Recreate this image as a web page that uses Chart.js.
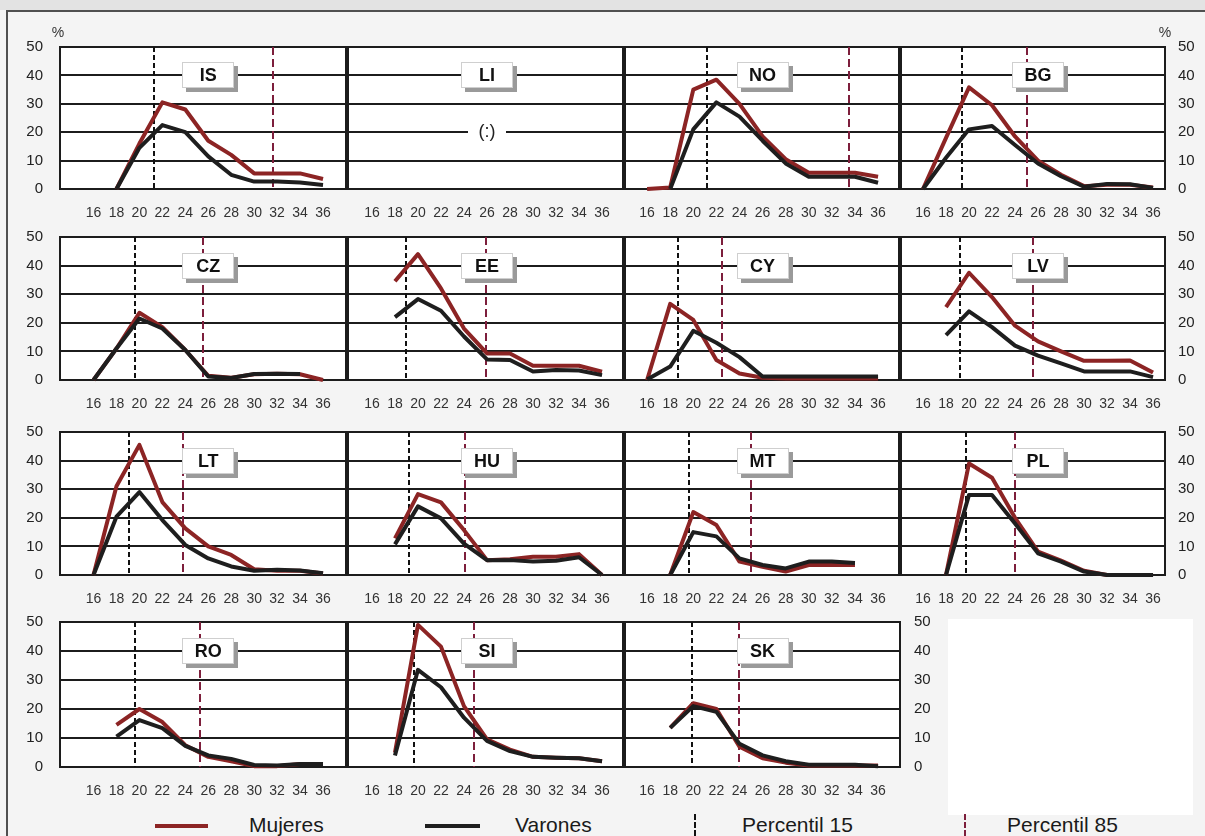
<!DOCTYPE html>
<html>
<head>
<meta charset="utf-8">
<script src="https://cdn.jsdelivr.net/npm/chart.js@4/dist/chart.umd.min.js"></script>
<style>
html,body{margin:0;padding:0;background:#f4f4f4;}
#wrap{position:relative;width:1205px;height:836px;overflow:hidden;background:#f4f4f4;font-family:"Liberation Sans",Arial,sans-serif;}
#topband{position:absolute;left:0;top:0;width:1205px;height:10px;background:#e3e3e3;}
#frame{position:absolute;left:6px;top:10px;width:1210px;height:840px;border-left:2px solid #505050;border-top:2px solid #505050;}
#empty{position:absolute;left:948px;top:619px;width:245px;height:196px;background:#fff;}
canvas{position:absolute;}
.lgtxt{position:absolute;font-size:21px;line-height:21px;color:#1a1a1a;white-space:nowrap;}
.lgline{position:absolute;height:4px;}
.lgdash{position:absolute;width:0;height:22px;}
</style>
</head>
<body>
<div id="wrap">
  <div id="topband"></div>
  <div id="frame"></div>
  <div id="empty"></div>
</div>
<script>
// ---------------- DATA ----------------
const ages = [16, 18, 20, 22, 24, 26, 28, 30, 32, 34, 36];
const yTickValues = [0, 10, 20, 30, 40, 50];
const countries = ['IS','LI','NO','BG','CZ','EE','CY','LV','LT','HU','MT','PL','RO','SI','SK'];
const legendLabels = ['Mujeres', 'Varones', 'Percentil 15', 'Percentil 85'];
const noDataLabel = '(:)';
const unitLabel = '%';

const mujeres_IS = [null, 0, 16, 30.5, 28, 17, 12, 5.5, 5.5, 5.5, 3.5];
const varones_IS = [null, 0, 14.5, 22.5, 20, 11.5, 5, 2.6, 2.6, 2.3, 1.4];
const mujeres_LI = [null, null, null, null, null, null, null, null, null, null, null];
const varones_LI = [null, null, null, null, null, null, null, null, null, null, null];
const mujeres_NO = [0, 0.5, 35, 38.5, 30, 18.5, 10.5, 5.7, 5.7, 5.7, 4.3];
const varones_NO = [null, 0, 21, 30.5, 25.5, 17, 9, 4.3, 4.3, 4.3, 2.2];
const mujeres_BG = [0, 18, 35.8, 29.5, 18.5, 10, 5, 1, 1.5, 1.5, 0.5];
const varones_BG = [0, 11, 21, 22.2, 15.5, 9, 4.5, 0.8, 1.8, 1.7, 0.4];

const mujeres_CZ = [0, 11, 23.5, 18.5, 10.5, 1.5, 0.8, 2, 2.2, 2, 0];
const varones_CZ = [0, 11, 21.5, 18, 10.5, 1.2, 0.7, 2.1, 2.2, 2.1, null];
const mujeres_EE = [null, 34.5, 44, 32, 18, 9.3, 9.3, 5, 5, 5, 2.9];
const varones_EE = [null, 22, 28.3, 24.2, 15.2, 7.2, 7, 3, 3.5, 3.3, 1.7];
const mujeres_CY = [0, 26.6, 21, 7, 2.3, 0.8, 0.5, 0.5, 0.5, 0.5, 0.5];
const varones_CY = [0.2, 4.7, 17.2, 13, 8, 1.2, 1.2, 1.2, 1.2, 1.2, 1.2];
const mujeres_LV = [null, 25.5, 37.5, 29, 19, 13.5, 10, 6.7, 6.7, 6.8, 2.6];
const varones_LV = [null, 15.7, 24, 18.5, 12, 8.5, 5.8, 3, 3, 3, 1];

const mujeres_LT = [0, 31, 45.5, 25.5, 16.3, 10, 7, 2, 1.5, 1.5, 0.5];
const varones_LT = [0, 20.4, 29, 19.2, 10.5, 5.8, 3, 1.5, 1.8, 1.6, 0.6];
const mujeres_HU = [null, 12.8, 28.3, 25.4, 15.7, 5.2, 5.5, 6.4, 6.4, 7.3, 0];
const varones_HU = [null, 10.7, 24, 19.8, 11, 5.2, 5.2, 4.7, 5, 6.2, 0];
const mujeres_MT = [null, 0, 22, 17.5, 4.7, 2.9, 1.2, 3.5, 3.5, 3.5, null];
const varones_MT = [null, 0, 15, 13.5, 5.8, 3.5, 2.3, 4.7, 4.7, 4.2, null];
const mujeres_PL = [null, 0, 39, 34, 20, 8.2, 5, 1.5, 0, 0, 0];
const varones_PL = [null, 0, 28, 28, 18, 7.6, 4.7, 1.2, 0, 0, 0];

const mujeres_RO = [null, 14.5, 20, 15.5, 7.5, 3.5, 2, 0.3, 0.3, 1, 1];
const varones_RO = [null, 10.5, 16.2, 13.4, 7.3, 4, 2.8, 0.7, 0.5, 1, 1];
const mujeres_SI = [null, 5, 49, 41.5, 21, 9.5, 6, 3.5, 3.2, 3, 2];
const varones_SI = [null, 4, 33.5, 27.5, 17, 9, 5.5, 3.5, 3.2, 3, 2];
const mujeres_SK = [null, 13.5, 22, 20, 7, 3, 1.5, 0.5, 0.5, 0.5, 0.5];
const varones_SK = [null, 13.5, 21, 19, 8, 4, 2, 0.8, 0.8, 0.8, 0.3];

// percentile ages, in the order of `countries`
const percentil15 = [21.3, null, 21.2, 19.4, 19.6, 19.0, 18.7, 19.2, 19.1, 19.2, 19.65, 19.75, 19.6, 19.65, 19.9];
const percentil85 = [31.6, null, 33.5, 25.0, 25.5, 25.9, 22.5, 25.6, 23.8, 24.1, 25.0, 24.0, 25.3, 24.9, 24.0];

// ------------- tables built from the arrays -------------
const mujeres = {IS:mujeres_IS, LI:mujeres_LI, NO:mujeres_NO, BG:mujeres_BG, CZ:mujeres_CZ, EE:mujeres_EE, CY:mujeres_CY, LV:mujeres_LV,
  LT:mujeres_LT, HU:mujeres_HU, MT:mujeres_MT, PL:mujeres_PL, RO:mujeres_RO, SI:mujeres_SI, SK:mujeres_SK};
const varones = {IS:varones_IS, LI:varones_LI, NO:varones_NO, BG:varones_BG, CZ:varones_CZ, EE:varones_EE, CY:varones_CY, LV:varones_LV,
  LT:varones_LT, HU:varones_HU, MT:varones_MT, PL:varones_PL, RO:varones_RO, SI:varones_SI, SK:varones_SK};

// ------------- layout / style -------------
const RED = '#8c2424';
const RED_DASH = '#7d1f3c';
const BLACK = '#1e1e1e';
const GRID = '#1c1c1c';
const ROWS = [[47,189],[237,380],[432,575],[622,767]];
const COLS = [[60,347,13.08,38.09],[347,624,13.83,37.91],[624,900,14.0,37.9],[900,1165,14.0,37.04]];
const L = 60, R = 50, T = 30, B = 32;
const FONT = '"Liberation Sans", Arial, Helvetica, sans-serif';
Chart.defaults.font.family = FONT;

const decor = {
  id: 'decor',
  beforeDraw(chart) {
    const {ctx, chartArea: a} = chart;
    ctx.save();
    ctx.fillStyle = '#ffffff';
    ctx.fillRect(a.left, a.top, a.right - a.left, a.bottom - a.top);
    ctx.restore();
  },
  beforeDatasetsDraw(chart, args, o) {
    const {ctx, chartArea: a, scales: {x}} = chart;
    const dline = (v, color, dash) => {
      if (v == null) return;
      const px = Math.round(x.getPixelForValue(v));
      ctx.save();
      ctx.strokeStyle = color; ctx.lineWidth = 2; ctx.setLineDash(dash);
      ctx.beginPath(); ctx.moveTo(px, a.top); ctx.lineTo(px, a.bottom); ctx.stroke();
      ctx.restore();
    };
    dline(o.p15, '#111111', [5, 3]);
    dline(o.p85, RED_DASH, [8, 4]);
  },
  afterDatasetsDraw(chart, args, o) {
    const {ctx, chartArea: a, scales: {x, y}} = chart;
    ctx.save();
    // panel side borders
    ctx.strokeStyle = GRID;
    ctx.lineWidth = o.leftW;
    ctx.beginPath(); ctx.moveTo(a.left, a.top - 1); ctx.lineTo(a.left, a.bottom + 1); ctx.stroke();
    ctx.lineWidth = o.rightW;
    ctx.beginPath(); ctx.moveTo(a.right, a.top - 1); ctx.lineTo(a.right, a.bottom + 1); ctx.stroke();
    // country label box
    const cx = x.getPixelForValue(26), cy = y.getPixelForValue(40);
    const w = 52, h = 26;
    ctx.fillStyle = '#9a9a9a';
    ctx.fillRect(Math.round(cx - w/2) + 4, Math.round(cy - h/2) + 4, w, h);
    ctx.fillStyle = '#ffffff';
    ctx.fillRect(Math.round(cx - w/2), Math.round(cy - h/2), w, h);
    ctx.strokeStyle = '#cfcfcf'; ctx.lineWidth = 1;
    ctx.strokeRect(Math.round(cx - w/2) + 0.5, Math.round(cy - h/2) + 0.5, w - 1, h - 1);
    ctx.fillStyle = '#111111';
    ctx.font = 'bold 18px ' + FONT;
    ctx.textAlign = 'center'; ctx.textBaseline = 'middle';
    ctx.fillText(o.code, cx, cy + 1);
    // no data marker
    if (o.noData) {
      const ny = y.getPixelForValue(20);
      ctx.fillStyle = '#ffffff';
      ctx.fillRect(cx - 19, ny - 10, 38, 20);
      ctx.fillStyle = '#222';
      ctx.font = '18px ' + FONT;
      ctx.fillText(noDataLabel, cx, ny);
    }
    // % unit label
    if (o.pct) {
      ctx.fillStyle = '#333';
      ctx.font = '14px ' + FONT;
      ctx.textAlign = 'center';
      ctx.fillText(unitLabel, o.pct === 'left' ? a.left - 2 : a.right, a.top - 14);
    }
    ctx.restore();
  }
};

const wrap = document.getElementById('wrap');
countries.forEach((code, i) => {
  const r = Math.floor(i / 4), c = i % 4;
  const [pl, pr, xmin, xmax] = COLS[c];
  const [pt, pb] = ROWS[r];
  const yLeft = c === 0;
  const yRight = c === 3 || code === 'SK';
  const W = pr - pl + L + R, H = pb - pt + T + B;
  const cv = document.createElement('canvas');
  cv.width = W; cv.height = H;
  cv.style.left = (pl - L) + 'px'; cv.style.top = (pt - T) + 'px';
  cv.style.width = W + 'px'; cv.style.height = H + 'px';
  wrap.appendChild(cv);
  const noData = varones[code].every(v => v == null);
  new Chart(cv, {
    type: 'line',
    data: {
      labels: ages,
      datasets: [
        {label: legendLabels[1], data: varones[code], borderColor: BLACK, borderWidth: 4, pointRadius: 0, tension: 0, clip: false, spanGaps: false, borderJoinStyle: 'round', borderCapStyle: 'butt'},
        {label: legendLabels[0], data: mujeres[code], borderColor: RED, borderWidth: 4, pointRadius: 0, tension: 0, clip: false, spanGaps: false, borderJoinStyle: 'round', borderCapStyle: 'butt'}
      ]
    },
    options: {
      responsive: false, animation: false, devicePixelRatio: 1, events: [],
      layout: {autoPadding: false, padding: {top: T, bottom: 0, left: yRight ? L : 0, right: yRight ? 0 : R}},
      plugins: {
        legend: {display: false}, tooltip: {enabled: false},
        decor: {code, p15: percentil15[i], p85: percentil85[i], leftW: c === 0 ? 2 : 4, rightW: yRight ? 2 : 4,
                noData, pct: (r === 0 && c === 0) ? 'left' : ((r === 0 && c === 3) ? 'right' : null)}
      },
      scales: {
        x: {
          type: 'linear', min: xmin, max: xmax,
          afterBuildTicks: s => { s.ticks = ages.map(v => ({value: v})); },
          afterFit: s => { s.height = B; s.paddingLeft = 0; s.paddingRight = 0; },
          grid: {display: false}, border: {display: false},
          ticks: {autoSkip: false, maxRotation: 0, minRotation: 0, padding: 8, color: '#333', font: {size: 14}}
        },
        y: {
          position: yRight ? 'right' : 'left', min: 0, max: 50,
          afterBuildTicks: s => { s.ticks = yTickValues.map(v => ({value: v})); },
          afterFit: s => { s.width = yRight ? R : L; s.paddingTop = 0; s.paddingBottom = 0; },
          grid: {color: GRID, lineWidth: 2, drawTicks: false},
          border: {display: false},
          ticks: {display: yLeft || yRight, padding: yRight ? (code === 'SK' ? 14 : 13) : 17, color: '#222', font: {size: 15}}
        }
      }
    },
    plugins: [decor]
  });
});

// ------------- legend -------------
function addEl(cls, css, text) {
  const d = document.createElement('div');
  d.className = cls;
  Object.assign(d.style, css);
  if (text) d.textContent = text;
  wrap.appendChild(d);
}
addEl('lgline', {left: '155px', top: '824px', width: '53px', background: RED});
addEl('lgtxt', {left: '249px', top: '814px'}, legendLabels[0]);
addEl('lgline', {left: '425px', top: '824px', width: '55px', background: BLACK});
addEl('lgtxt', {left: '515px', top: '814px'}, legendLabels[1]);
addEl('lgdash', {left: '694px', top: '814px', borderLeft: '2px dashed #111'});
addEl('lgtxt', {left: '742px', top: '814px'}, legendLabels[2]);
addEl('lgdash', {left: '964px', top: '814px', borderLeft: '2px dashed ' + RED_DASH});
addEl('lgtxt', {left: '1007px', top: '814px'}, legendLabels[3]);
</script>
</body>
</html>
